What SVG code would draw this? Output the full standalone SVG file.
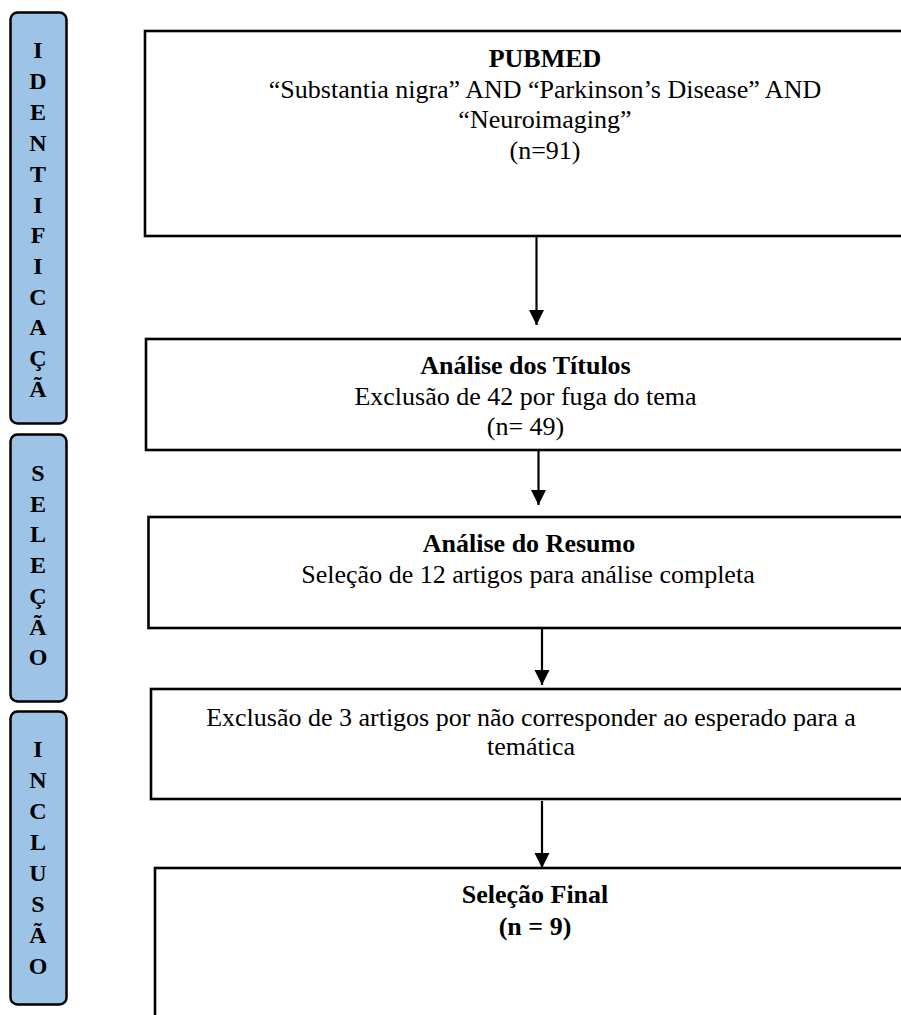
<svg xmlns="http://www.w3.org/2000/svg" width="901" height="1015" viewBox="0 0 901 1015">
<style>
.side{fill:#9DC3E6;stroke:#000;stroke-width:2.5}
.box{fill:#fff;stroke:#000;stroke-width:2.6}
.st{font-family:"Liberation Serif","Times New Roman",serif;font-weight:bold;font-size:24px;text-anchor:middle;fill:#000}
.t{font-family:"Liberation Serif","Times New Roman",serif;font-size:26px;text-anchor:middle;fill:#000}
.b{font-weight:bold}
.edge{stroke:#000;stroke-width:2.2;fill:none}
</style>
<defs>
<marker id="ah" viewBox="0 0 10 10" refX="10" refY="5" markerWidth="7" markerHeight="7" markerUnits="strokeWidth" orient="auto">
<path d="M0,0 L10,5 L0,10 Z" fill="#000"/>
</marker>
</defs>
<rect width="901" height="1015" fill="#fff"/>
<g id="side-identificacao">
<rect class="side" x="10.5" y="12.5" width="56" height="411" rx="7"/>
<text class="st"><tspan x="38" y="58">I</tspan><tspan x="38" y="89">D</tspan><tspan x="38" y="120">E</tspan><tspan x="38" y="150.5">N</tspan><tspan x="38" y="181.5">T</tspan><tspan x="38" y="212.5">I</tspan><tspan x="38" y="243">F</tspan><tspan x="38" y="274">I</tspan><tspan x="38" y="305">C</tspan><tspan x="38" y="335">A</tspan><tspan x="38" y="365.5">Ç</tspan><tspan x="38" y="396.5">Ã</tspan></text>
</g>
<g id="side-selecao">
<rect class="side" x="10.5" y="434.5" width="56" height="267" rx="7"/>
<text class="st"><tspan x="38" y="481">S</tspan><tspan x="38" y="511.5">E</tspan><tspan x="38" y="542">L</tspan><tspan x="38" y="573">E</tspan><tspan x="38" y="603.5">Ç</tspan><tspan x="38" y="634.5">Ã</tspan><tspan x="38" y="665">O</tspan></text>
</g>
<g id="side-inclusao">
<rect class="side" x="10.5" y="711.5" width="56" height="293" rx="7"/>
<text class="st"><tspan x="38" y="757">I</tspan><tspan x="38" y="788">N</tspan><tspan x="38" y="819">C</tspan><tspan x="38" y="850">L</tspan><tspan x="38" y="881">U</tspan><tspan x="38" y="912">S</tspan><tspan x="38" y="943">Ã</tspan><tspan x="38" y="973.5">O</tspan></text>
</g>
<g id="connectors">
<line class="edge" x1="536.5" y1="236" x2="536.5" y2="325" marker-end="url(#ah)"/>
<line class="edge" x1="538.5" y1="448" x2="538.5" y2="505" marker-end="url(#ah)"/>
<line class="edge" x1="542" y1="628" x2="542" y2="685" marker-end="url(#ah)"/>
<line class="edge" x1="542" y1="801" x2="542" y2="868" marker-end="url(#ah)"/>
</g>
<g id="box-pubmed">
<rect class="box" x="145" y="31" width="780" height="205"/>
<text class="t b" x="545" y="67">PUBMED</text>
<text class="t" x="545" y="97.5">“Substantia nigra” AND “Parkinson’s Disease” AND</text>
<text class="t" x="545" y="128">“Neuroimaging”</text>
<text class="t" x="545" y="158.5">(n=91)</text>
</g>
<g id="box-titulos">
<rect class="box" x="146" y="339" width="780" height="111"/>
<text class="t b" x="525.5" y="374">Análise dos Títulos</text>
<text class="t" x="525.5" y="405">Exclusão de 42 por fuga do tema</text>
<text class="t" x="525.5" y="435">(n= 49)</text>
</g>
<g id="box-resumo">
<rect class="box" x="148.5" y="517" width="780" height="111"/>
<text class="t b" x="529" y="552">Análise do Resumo</text>
<text class="t" x="528" y="583">Seleção de 12 artigos para análise completa</text>
</g>
<g id="box-exclusao">
<rect class="box" x="151" y="689" width="780" height="110"/>
<text class="t" x="531" y="726">Exclusão de 3 artigos por não corresponder ao esperado para a</text>
<text class="t" x="531" y="755">temática</text>
</g>
<g id="box-final">
<rect class="box" x="155" y="868" width="780" height="170"/>
<text class="t b" x="535" y="903">Seleção Final</text>
<text class="t b" x="535" y="935">(n = 9)</text>
</g>
</svg>
